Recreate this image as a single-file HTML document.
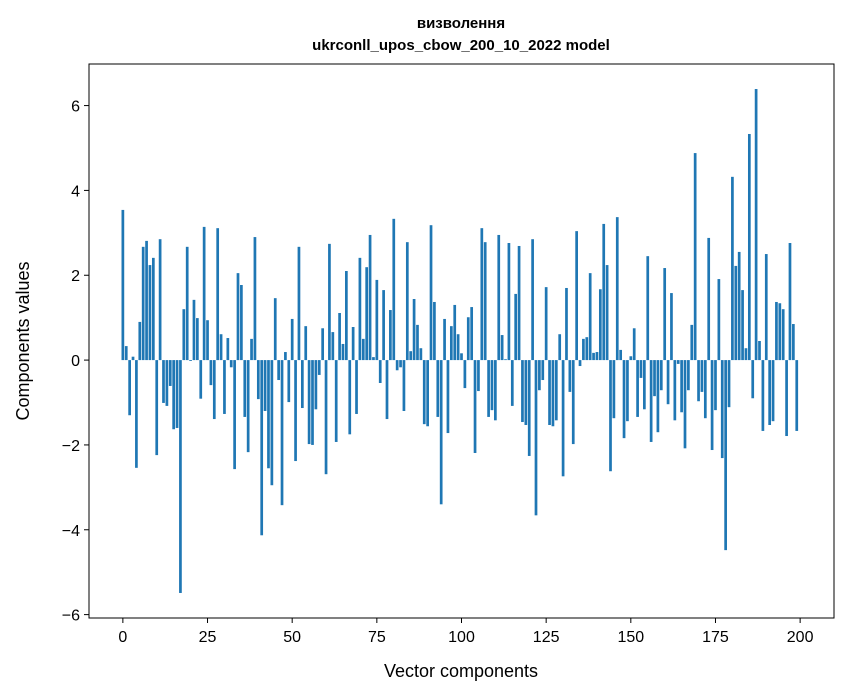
<!DOCTYPE html>
<html><head><meta charset="utf-8"><style>
body{margin:0;background:#fff;}
svg{display:block;font-family:"Liberation Sans","DejaVu Sans",sans-serif;}
</style></head><body>
<svg id="chart" width="847" height="696">
<text x="461" y="28" text-anchor="middle" font-size="15" font-weight="bold">визволення</text>
<text x="461" y="50" text-anchor="middle" font-size="15" font-weight="bold">ukrconll_upos_cbow_200_10_2022 model</text>
<g id="bars"></g>
<g id="axes"></g>
<rect x="89" y="64" width="745" height="554" fill="none" stroke="#000" stroke-width="1"/>
<text x="461" y="677" text-anchor="middle" font-size="18">Vector components</text>
<text x="29" y="341" text-anchor="middle" font-size="18" transform="rotate(-90 29 341)">Components values</text>
</svg>
<script>
const values = [3.54,0.33,-1.30,0.08,-2.54,0.90,2.67,2.81,2.24,2.41,-2.24,2.85,-1.01,-1.08,-0.61,-1.63,-1.60,-5.49,1.20,2.67,-0.02,1.42,0.99,-0.91,3.14,
0.94,-0.59,-1.39,3.11,0.61,-1.27,0.52,-0.17,-2.57,2.05,1.77,-1.34,-2.17,0.50,2.90,-0.92,-4.13,-1.20,-2.55,-2.95,1.46,-0.47,-3.42,0.19,-0.99,
0.97,-2.38,2.67,-1.13,0.80,-1.98,-2.00,-1.16,-0.35,0.75,-2.69,2.74,0.66,-1.93,1.11,0.38,2.10,-1.75,0.78,-1.27,2.41,0.50,2.19,2.95,0.07,
1.89,-0.54,1.65,-1.39,1.18,3.33,-0.24,-0.17,-1.20,2.78,0.21,1.44,0.83,0.28,-1.51,-1.56,3.18,1.37,-1.34,-3.40,0.97,-1.72,0.80,1.30,0.61,
0.16,-0.66,1.01,1.25,-2.19,-0.73,3.11,2.78,-1.34,-1.18,-1.42,2.95,0.59,0.02,2.76,-1.08,1.56,2.69,-1.46,-1.53,-2.26,2.85,-3.66,-0.71,-0.47,
1.72,-1.53,-1.56,-1.42,0.61,-2.74,1.70,-0.75,-1.98,3.04,-0.14,0.50,0.54,2.05,0.17,0.19,1.67,3.21,2.24,-2.62,-1.37,3.37,0.24,-1.84,-1.44,
0.09,0.75,-1.34,-0.42,-1.16,2.45,-1.93,-0.85,-1.70,-0.71,2.17,-1.04,1.58,-1.42,-0.09,-1.23,-2.08,-0.71,0.83,4.88,-0.97,-0.75,-1.37,2.88,-2.12,
-1.18,1.91,-2.31,-4.48,-1.11,4.32,2.22,2.55,1.65,0.28,5.33,-0.90,6.39,0.45,-1.67,2.50,-1.53,-1.44,1.37,1.34,1.20,-1.79,2.76,0.85,-1.67];
const xTicks = [0,25,50,75,100,125,150,175,200];
const yTicks = [-6,-4,-2,0,2,4,6];
const NS="http://www.w3.org/2000/svg";
const X0=89,X1=834,Y0=64,Y1=618, xmin=-10, xmax=210, ymin=-6.08, ymax=6.98;
function xs(v){return X0+(v-xmin)/(xmax-xmin)*(X1-X0);}
function ys(v){return Y1-(v-ymin)/(ymax-ymin)*(Y1-Y0);}
const bars=document.getElementById('bars');
values.forEach((v,i)=>{
  const r=document.createElementNS(NS,'rect');
  const a=xs(i-0.4), b=xs(i+0.4);
  r.setAttribute('x',a);r.setAttribute('width',b-a);
  r.setAttribute('y',Math.min(ys(v),ys(0)));
  r.setAttribute('height',Math.abs(ys(v)-ys(0)));
  r.setAttribute('fill','#1f77b4');
  
  
  bars.appendChild(r);
});
const ax=document.getElementById('axes');
xTicks.forEach(t=>{
  const l=document.createElementNS(NS,'line');
  l.setAttribute('x1',xs(t));l.setAttribute('x2',xs(t));l.setAttribute('y1',Y1);l.setAttribute('y2',Y1+5);l.setAttribute('stroke','#000');
  
  
  ax.appendChild(l);
  const tx=document.createElementNS(NS,'text');
  tx.setAttribute('x',xs(t));tx.setAttribute('y',Y1+24);tx.setAttribute('text-anchor','middle');tx.setAttribute('font-size','16');
  tx.textContent=t;
  
  
  ax.appendChild(tx);
});
yTicks.forEach(t=>{
  const l=document.createElementNS(NS,'line');
  l.setAttribute('x1',X0-5);l.setAttribute('x2',X0);l.setAttribute('y1',ys(t));l.setAttribute('y2',ys(t));l.setAttribute('stroke','#000');
  
  
  ax.appendChild(l);
  const tx=document.createElementNS(NS,'text');
  tx.setAttribute('x',X0-9);tx.setAttribute('y',ys(t)+6);tx.setAttribute('text-anchor','end');tx.setAttribute('font-size','16');
  tx.textContent=(t<0?'\u2212'+Math.abs(t):t);
  
  
  ax.appendChild(tx);
});
</script>
</body></html>
